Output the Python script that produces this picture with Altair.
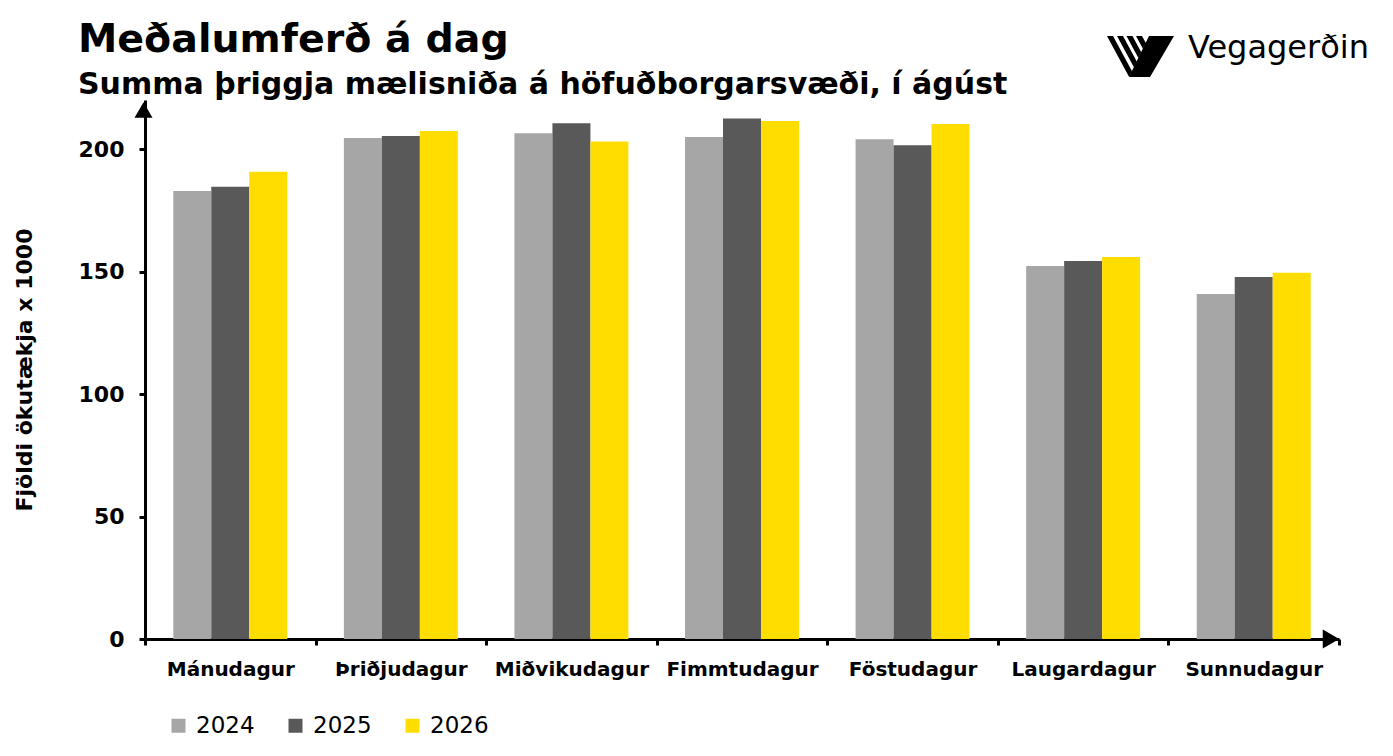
import altair as alt
import pandas as pd

days = ["Mánudagur", "Þriðjudagur", "Miðvikudagur", "Fimmtudagur",
        "Föstudagur", "Laugardagur", "Sunnudagur"]
years = ["2024", "2025", "2026"]
v2024 = [182.9, 204.5, 206.4, 204.9, 204.0, 152.2, 140.8]
v2025 = [184.6, 205.3, 210.5, 212.5, 201.5, 154.3, 147.8]
v2026 = [190.7, 207.3, 203.1, 211.4, 210.2, 155.9, 149.5]
colors = ["#A6A6A6", "#595959", "#FFDD00"]

FONT = "DejaVu Sans"

rows = []
for y, vals in zip(years, [v2024, v2025, v2026]):
    for d, v in zip(days, vals):
        rows.append({"dagur": d, "ar": y, "fjoldi": v})
df = pd.DataFrame(rows)
one = pd.DataFrame({"k": [0]})  # single row for decorations

bars = (
    alt.Chart(df)
    .mark_bar()
    .encode(
        x=alt.X("dagur:N", sort=days, title=None)
        .scale(paddingInner=0, paddingOuter=0)
        .axis(
            labelAngle=0, labelFont=FONT, labelFontSize=20, labelFontWeight="bold",
            labelColor="black", labelPadding=14, tickBand="extent", tickSize=6,
            tickWidth=3, tickColor="black", domainColor="black", domainWidth=3,
        ),
        xOffset=alt.XOffset("ar:N", sort=years).scale(paddingInner=0, paddingOuter=0.745),
        y=alt.Y("fjoldi:Q", title="Fjöldi ökutækja x 1000")
        .scale(domain=[0, 220], nice=False)
        .axis(
            values=[0, 50, 100, 150, 200], grid=False, labelFont=FONT,
            labelFontSize=22, labelFontWeight="bold", labelColor="black",
            labelPadding=15, tickSize=6, tickWidth=3, tickColor="black",
            domainColor="black", domainWidth=3, titleFont=FONT,
            titleFontSize=22, titleFontWeight="bold", titleColor="black",
            titlePadding=42,
        ),
        color=alt.Color("ar:N", sort=years, title=None)
        .scale(domain=years, range=colors)
        .legend(
            orient="none", legendX=22, legendY=614, direction="horizontal",
            symbolType="square", symbolSize=196, symbolStrokeWidth=0,
            symbolOpacity=1, labelFont=FONT, labelFontSize=23,
            labelColor="black", labelOffset=6, columnPadding=29,
        ),
    )
)

# arrow heads on the axes
arrow_y = alt.Chart(one).mark_point(
    shape="triangle-up", filled=True, color="black", size=324, opacity=1
).encode(x=alt.value(-1.5), y=alt.value(10))
arrow_x = alt.Chart(one).mark_point(
    shape="triangle-right", filled=True, color="black", size=361, opacity=1
).encode(x=alt.value(1186), y=alt.value(539))

# titles
title = alt.Chart(one).mark_text(
    text="Meðalumferð á dag", font=FONT, fontSize=39.5, fontWeight="bold",
    align="left", baseline="alphabetic", color="black"
).encode(x=alt.value(-67), y=alt.value(-48))
subtitle = alt.Chart(one).mark_text(
    text="Summa þriggja mælisniða á höfuðborgarsvæði, í ágúst", font=FONT,
    fontSize=30, fontWeight="bold", align="left", baseline="alphabetic",
    color="black"
).encode(x=alt.value(-67), y=alt.value(-6))

# Vegagerðin logo
logo_path = (
    "M0.254,-0.612L1,-0.612L0.284,0.612L-0.343,0.612Z"
    "M-1,-0.612L-0.821,-0.612L-0.257,0.433L-0.343,0.606Z"
    "M-0.701,-0.612L-0.522,-0.612L-0.116,0.140L-0.2,0.316Z"
    "M-0.418,-0.612L-0.239,-0.612L0.018,-0.134L-0.066,0.039Z"
    "M-0.134,-0.612L0.045,-0.612L0.155,-0.409L0.069,-0.236Z"
)
logo_mark = alt.Chart(one).mark_point(
    shape=logo_path, filled=True, color="black", size=4489, opacity=1
).encode(x=alt.value(995.5), y=alt.value(-43.5))
logo_text = alt.Chart(one).mark_text(
    text="Vegagerðin", font=FONT, fontSize=32, fontWeight="normal",
    align="left", baseline="alphabetic", color="black"
).encode(x=alt.value(1043), y=alt.value(-42))

chart = (
    alt.layer(bars, arrow_y, arrow_x, title, subtitle, logo_mark, logo_text)
    .properties(
        width=1194,
        height=539,
        padding={"left": 137, "top": 92, "right": 40, "bottom": 100},
        autosize=alt.AutoSizeParams(type="none"),
    )
    .configure_view(stroke=None)
)

chart.save("out.html", embed_options={"renderer": "svg", "actions": False})
